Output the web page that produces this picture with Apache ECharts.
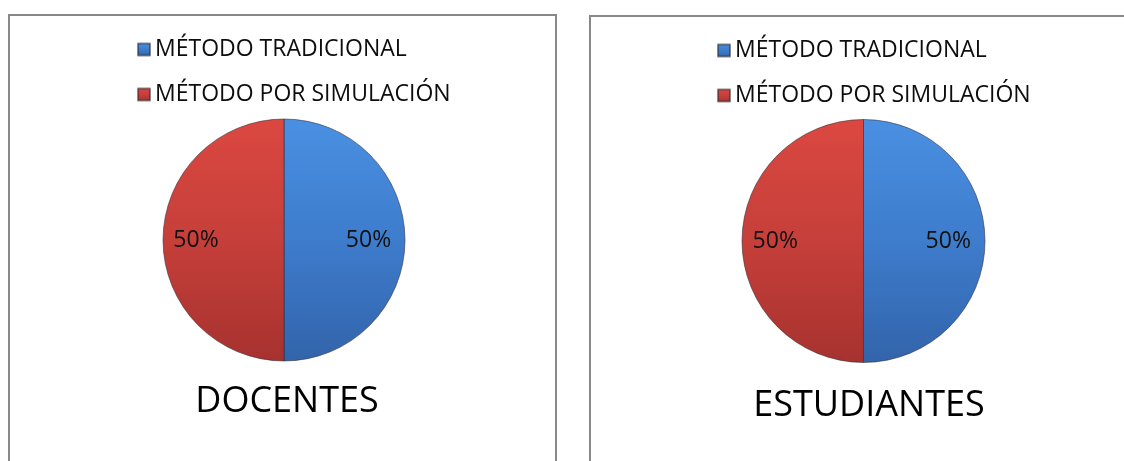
<!DOCTYPE html>
<html>
<head>
<meta charset="utf-8">
<title>Método tradicional vs. método por simulación</title>
<script src="https://cdn.jsdelivr.net/npm/echarts@6/dist/echarts.min.js"></script>
<style>
  html, body { margin: 0; padding: 0; background: #ffffff; }
  #chart { width: 1124px; height: 461px; }
</style>
</head>
<body>
<div id="chart"></div>
<script>
// Categories shared by both pies
const categories = ['MÉTODO TRADICIONAL', 'MÉTODO POR SIMULACIÓN'];
// Percentages per group
const docentesValues = [50, 50];
const estudiantesValues = [50, 50];
// Group captions drawn under each pie
const groupTitles = ['DOCENTES', 'ESTUDIANTES'];

const FONT = '"Open Sans", "DejaVu Sans", sans-serif';

// Vertical shading for each slice colour
const sliceColors = [
  new echarts.graphic.LinearGradient(0, 0, 0, 1, [
    { offset: 0, color: '#4a90e2' },
    { offset: 0.5, color: '#3e7ccc' },
    { offset: 1, color: '#3264aa' }
  ]),
  new echarts.graphic.LinearGradient(0, 0, 0, 1, [
    { offset: 0, color: '#db4841' },
    { offset: 0.5, color: '#c63f3a' },
    { offset: 1, color: '#a6322f' }
  ])
];

// Label nudges so the percentages sit out toward the rim
const labelPadding = [[4, 0, 0, 42], [4, 49, 0, 0]];

function buildData(values) {
  return categories.map((name, i) => ({
    name: name,
    value: values[i],
    itemStyle: { color: sliceColors[i] },
    label: { padding: labelPadding[i] }
  }));
}

function pieSeries(values, center, radius) {
  return {
    type: 'pie',
    center: center,
    radius: radius,
    startAngle: 90,
    clockwise: true,
    silent: true,
    animation: false,
    itemStyle: { borderColor: 'rgba(50,40,50,0.55)', borderWidth: 1 },
    label: {
      show: true,
      position: 'inside',
      formatter: '{d}%',
      color: '#111111',
      fontFamily: FONT,
      fontSize: 23
    },
    labelLine: { show: false },
    emphasis: { disabled: true },
    data: buildData(values)
  };
}

function legendAt(left, top) {
  return {
    orient: 'vertical',
    left: left,
    top: top,
    data: categories,
    icon: 'rect',
    itemWidth: 12,
    itemHeight: 12,
    itemGap: 22,
    selectedMode: false,
    textStyle: { fontFamily: FONT, fontSize: 23, color: '#0d0d0d', lineHeight: 23, padding: [0, 0, 0, 0] }
  };
}

function titleAt(text, left, top) {
  return {
    text: text,
    left: left,
    top: top,
    textAlign: 'center',
    textStyle: { fontFamily: FONT, fontSize: 36, fontWeight: 'normal', color: '#000000' }
  };
}

const chart = echarts.init(document.getElementById('chart'), null, { renderer: 'canvas' });

chart.setOption({
  backgroundColor: '#ffffff',
  animation: false,
  title: [
    titleAt(groupTitles[0], 282, 379),
    titleAt(groupTitles[1], 864, 383)
  ],
  legend: [
    legendAt(132, 33),
    legendAt(712, 34)
  ],
  graphic: [
    {
      type: 'rect',
      silent: true,
      shape: { x: 9, y: 15, width: 547, height: 470 },
      style: { fill: 'none', stroke: '#888888', lineWidth: 2 }
    },
    {
      type: 'rect',
      silent: true,
      shape: { x: 590, y: 16, width: 600, height: 470 },
      style: { fill: 'none', stroke: '#888888', lineWidth: 2 }
    }
  ],
  series: [
    pieSeries(docentesValues, [284, 240], 121),
    pieSeries(estudiantesValues, [863.5, 241], 121.5)
  ]
});
</script>
</body>
</html>
